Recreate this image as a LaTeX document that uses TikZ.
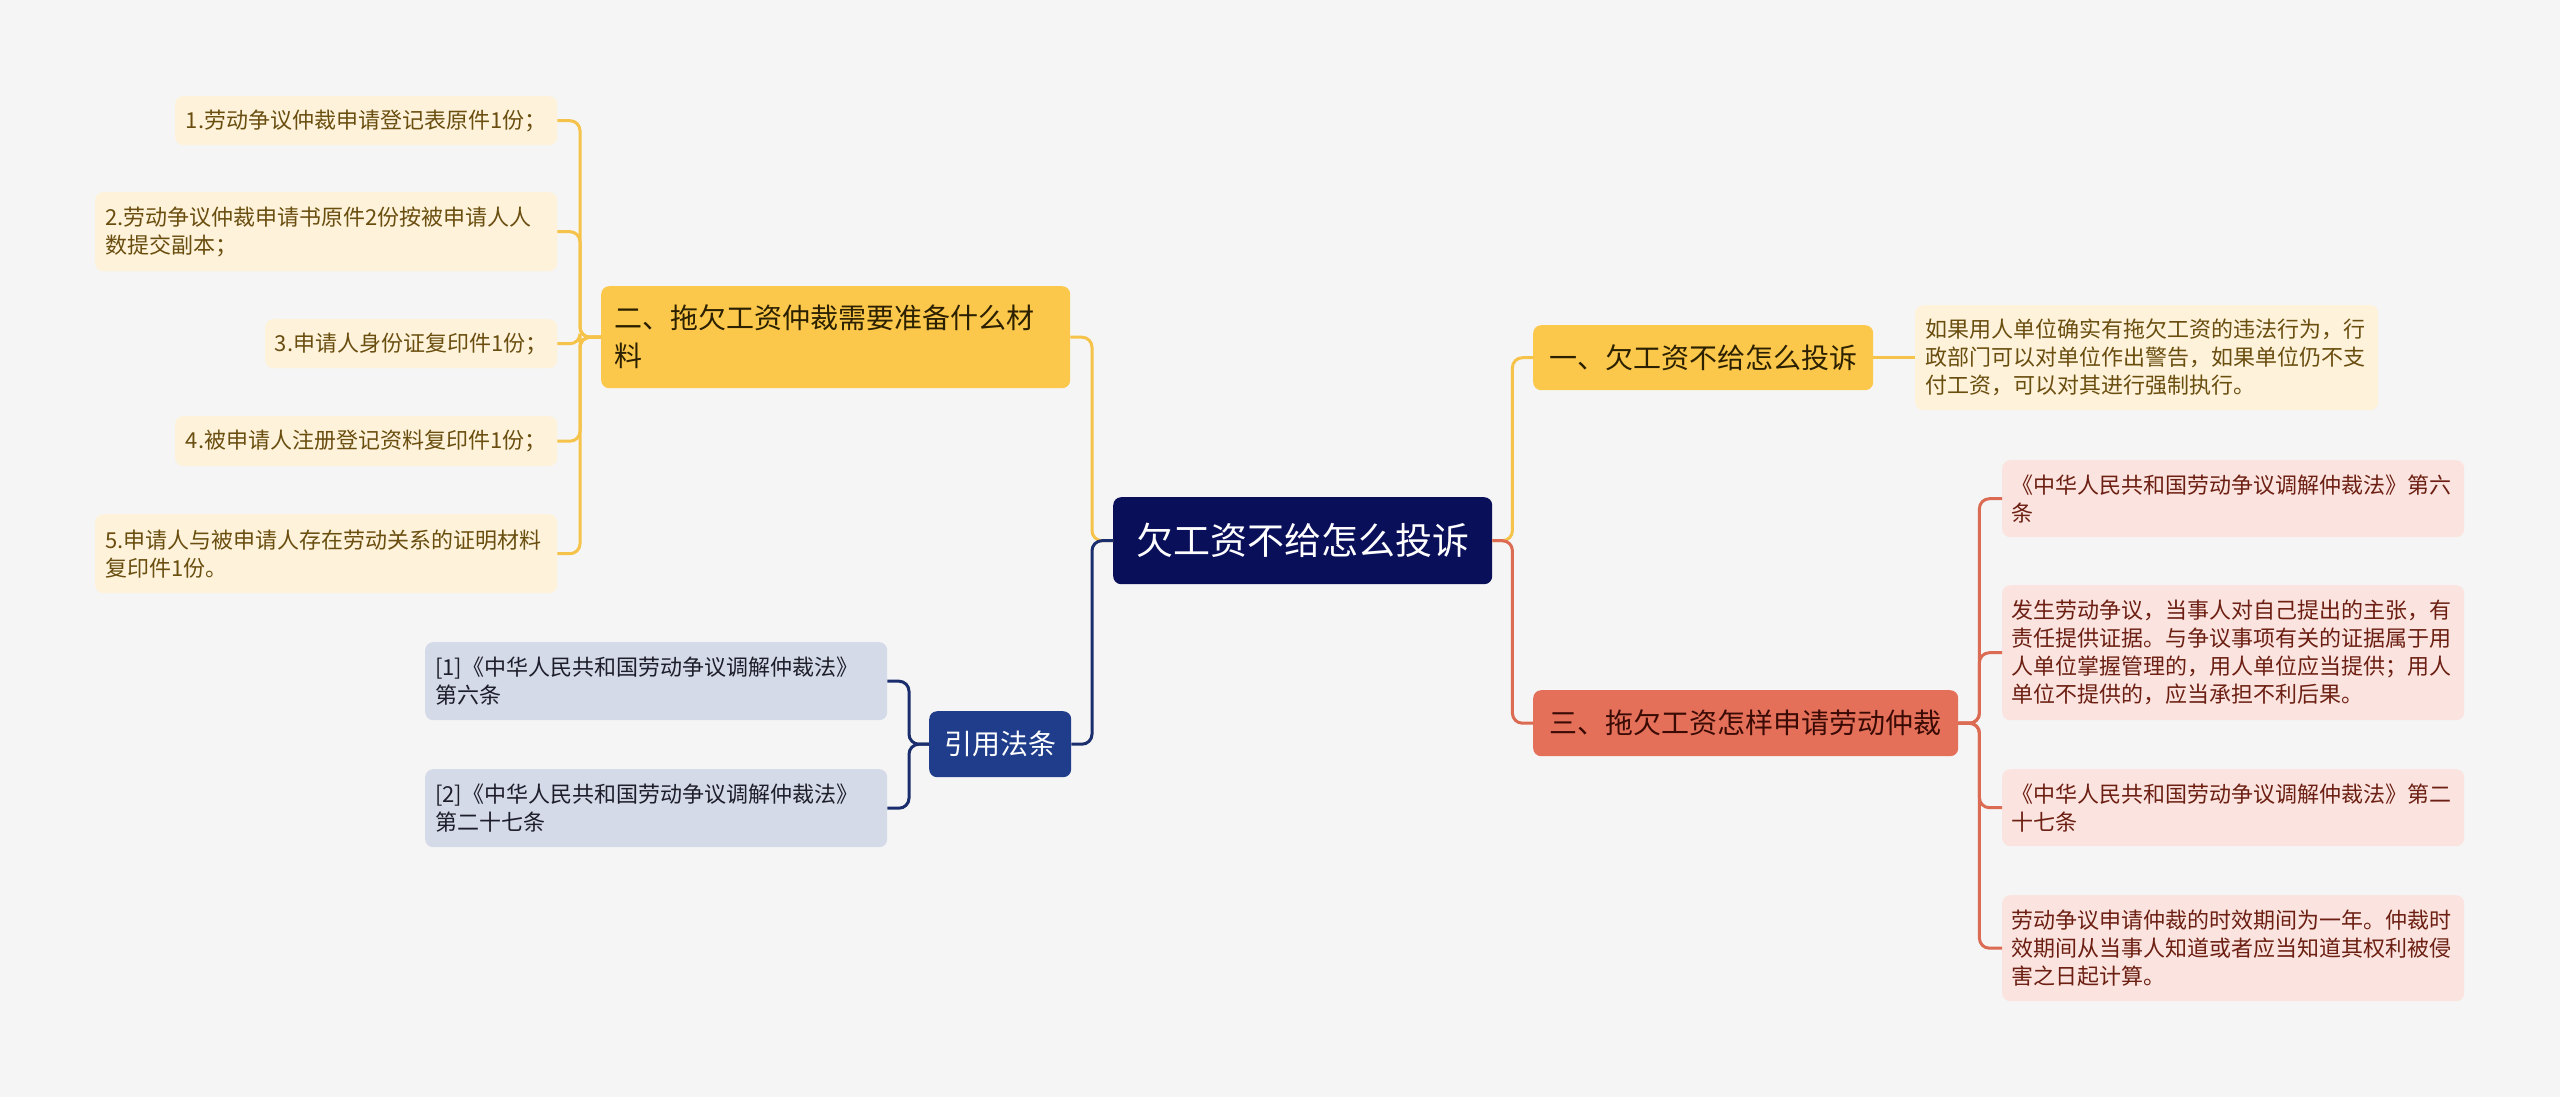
\documentclass[tikz,border=0pt]{standalone}
\usepackage{fontspec}
\setmainfont{Noto Sans CJK SC}
\definecolor{bg}{HTML}{F5F5F5}
\definecolor{rootc}{HTML}{0A0F5A}
\definecolor{yel}{HTML}{FCC84B}
\definecolor{yelline}{HTML}{F6C34A}
\definecolor{yelleaf}{HTML}{FEF3DA}
\definecolor{yeltext}{HTML}{6A4E10}
\definecolor{yelbtext}{HTML}{2B2000}
\definecolor{sal}{HTML}{E4705A}
\definecolor{salline}{HTML}{DC6B54}
\definecolor{pink}{HTML}{FBE4DF}
\definecolor{pinktext}{HTML}{6C1F12}
\definecolor{saltext}{HTML}{3A0A04}
\definecolor{navyb}{HTML}{1F3D8A}
\definecolor{navyline}{HTML}{1A2E6E}
\definecolor{refleaf}{HTML}{D4DAE8}
\definecolor{reftext}{HTML}{1E1E2A}
\tikzset{
  box/.style={rounded corners=8pt, inner sep=0pt, align=left, anchor=north west},
  dims/.style 2 args={minimum width=#1pt, minimum height=#2pt},
  lft/.style 2 args={inner xsep=#1pt, text width=#2pt},
  rootbox/.style={box, align=center, fill=rootc, text=white, font=\fontsize{37}{44}\selectfont},
  ybranch/.style={box, fill=yel, text=yelbtext, font=\fontsize{28}{38}\selectfont},
  sbranch/.style={box, fill=sal, text=saltext, font=\fontsize{28}{38}\selectfont},
  nbranch/.style={box, fill=navyb, text=white, font=\fontsize{28}{38}\selectfont},
  yleaf/.style={box, fill=yelleaf, text=yeltext, font=\fontsize{22}{28}\selectfont},
  pleaf/.style={box, fill=pink, text=pinktext, font=\fontsize{22}{28}\selectfont},
  rleaf/.style={box, fill=refleaf, text=reftext, font=\fontsize{22}{28}\selectfont},
  conn/.style={line width=3pt, rounded corners=10pt}
}
\begin{document}
\begin{tikzpicture}[x=1pt, y=-1pt]
\fill[bg] (0,0) rectangle (2560,1097);
\useasboundingbox (0,0) rectangle (2560,1097);

% root
\node[rootbox, dims={379}{87}] (root) at (1113,497) {欠工资不给怎么投诉};

% branches
\node[ybranch, dims={469}{102}, lft={13}{443}] (b2) at (601,286) {二、拖欠工资仲裁需要准备什么材\\料};
\node[nbranch, dims={142}{66}] (br) at (929,711) {引用法条};
\node[ybranch, dims={340}{65}] (b1) at (1533,325) {一、欠工资不给怎么投诉};
\node[sbranch, dims={425}{66}] (b3) at (1533,690) {三、拖欠工资怎样申请劳动仲裁};

% left yellow leaves
\node[yleaf, dims={382}{49}] (l1) at (175,96) {1.劳动争议仲裁申请登记表原件1份；};
\node[yleaf, dims={462}{79}, lft={10}{442}] (l2) at (95,192) {2.劳动争议仲裁申请书原件2份按被申请人人\\数提交副本；};
\node[yleaf, dims={292}{49}] (l3) at (265,319) {3.申请人身份证复印件1份；};
\node[yleaf, dims={382}{50}] (l4) at (175,416) {4.被申请人注册登记资料复印件1份；};
\node[yleaf, dims={462}{79}, lft={10}{442}] (l5) at (95,514) {5.申请人与被申请人存在劳动关系的证明材料\\复印件1份。};

% refs leaves
\node[rleaf, dims={462}{78}, lft={10}{442}] (r1) at (425,642) {[1]《中华人民共和国劳动争议调解仲裁法》\\第六条};
\node[rleaf, dims={462}{78}, lft={10}{442}] (r2) at (425,769) {[2]《中华人民共和国劳动争议调解仲裁法》\\第二十七条};

% right leaf of branch 1
\node[yleaf, dims={463}{105}, lft={10}{443}] (a1) at (1915,305) {如果用人单位确实有拖欠工资的违法行为，行\\政部门可以对单位作出警告，如果单位仍不支\\付工资，可以对其进行强制执行。};

% pink leaves
\node[pleaf, dims={462}{77}, lft={9}{444}] (p1) at (2002,460) {《中华人民共和国劳动争议调解仲裁法》第六\\条};
\node[pleaf, dims={462}{135}, lft={9}{444}] (p2) at (2002,585) {发生劳动争议，当事人对自己提出的主张，有\\责任提供证据。与争议事项有关的证据属于用\\人单位掌握管理的，用人单位应当提供；用人\\单位不提供的，应当承担不利后果。};
\node[pleaf, dims={462}{77}, lft={9}{444}] (p3) at (2002,769) {《中华人民共和国劳动争议调解仲裁法》第二\\十七条};
\node[pleaf, dims={462}{106}, lft={9}{444}] (p4) at (2002,895) {劳动争议申请仲裁的时效期间为一年。仲裁时\\效期间从当事人知道或者应当知道其权利被侵\\害之日起计算。};

% root connectors
\draw[conn, yelline] (root.west) -- ++(-21,0) |- (b2.east);
\draw[conn, navyline] (root.west) -- ++(-21,0) |- (br.east);
\draw[conn, yelline] (root.east) -- ++(20,0) |- (b1.west);
\draw[conn, salline] (root.east) -- ++(20,0) |- (b3.west);

% branch 2 connectors
\foreach \n in {l1,l2,l3,l4,l5}
  \draw[conn, yelline] (b2.west) -- ++(-21,0) |- (\n.east);

% refs connectors
\foreach \n in {r1,r2}
  \draw[conn, navyline] (br.west) -- ++(-20,0) |- (\n.east);

% branch 1 connector
\draw[conn, yelline] (b1.east) -- (a1.west);

% branch 3 connectors
\foreach \n in {p1,p2,p3,p4}
  \draw[conn, salline] (b3.east) -- ++(21,0) |- (\n.west);
\end{tikzpicture}
\end{document}
